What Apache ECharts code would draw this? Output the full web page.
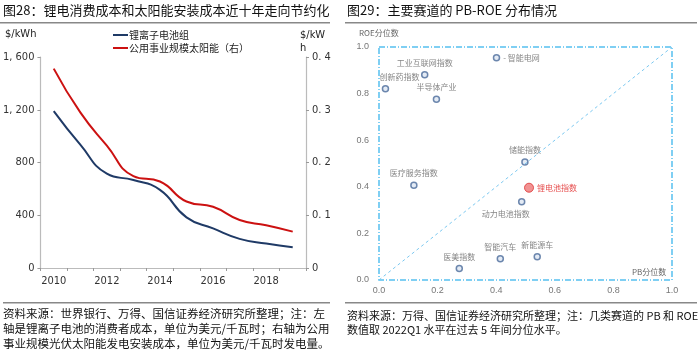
<!DOCTYPE html>
<html><head><meta charset="utf-8">
<script src="https://cdn.jsdelivr.net/npm/echarts@6/dist/echarts.min.js"></script>
<style>html,body{margin:0;padding:0;background:#fff}#c{width:700px;height:354px}</style>
</head><body><div id="c"></div>
<script>
// Left chart data
const years = ['2010','2011','2012','2013','2014','2015','2016','2017','2018','2019'];
const batteryCost = [1190, 935, 715, 667, 592, 384, 300, 221, 185, 157];
const solarCost = [0.378, 0.295, 0.232, 0.174, 0.164, 0.126, 0.116, 0.091, 0.081, 0.069];
const leftTicks = [0, 400, 800, 1200, 1600];
const rightTicks = [0, 0.1, 0.2, 0.3, 0.4];
// Right chart data
const tracks = ['智能电网','工业互联网指数','创新药指数','半导体产业','储能指数','医疗服务指数','锂电池指数','动力电池指数','智能汽车','新能源车','医美指数'];
const pbPct = [0.401, 0.156, 0.022, 0.196, 0.498, 0.119, 0.512, 0.487, 0.414, 0.540, 0.274];
const roePct = [0.954, 0.881, 0.821, 0.776, 0.506, 0.407, 0.396, 0.336, 0.091, 0.100, 0.049];
const diagLine = [[0,0],[1,1]];

const NARROW = '"Liberation Sans Narrow","DejaVu Sans Condensed","Roboto Condensed",sans-serif';
const CJK = '"Noto Sans CJK SC",sans-serif';

function fmtLeft(v){ return v >= 1000 ? Math.floor(v/1000) + ', ' + String(v%1000).padStart(3,'0') : String(v); }
function fmtRight(v){ return v === 0 ? '0' : '0. ' + Math.round(v*10); }

const labelPos = {
  '智能电网': {position:'right', offset:[0,0]},
  '工业互联网指数': {position:'top', offset:[0,-1]},
  '创新药指数': {position:'top', offset:[14,-1]},
  '半导体产业': {position:'top', offset:[0,-1]},
  '储能指数': {position:'top', offset:[0,-1]},
  '医疗服务指数': {position:'top', offset:[0,-1]},
  '锂电池指数': {position:'right', offset:[0,0]},
  '动力电池指数': {position:'bottom', offset:[-16,1]},
  '智能汽车': {position:'top', offset:[0,-1]},
  '新能源车': {position:'top', offset:[0,-1]},
  '医美指数': {position:'top', offset:[0,-1]}
};

const scatterData = tracks.map((n,i) => {
  const isLi = n === '锂电池指数';
  const lp = labelPos[n];
  return {
    name: n, value: [pbPct[i], roePct[i]],
    symbolSize: isLi ? 9 : 6,
    itemStyle: isLi ? {color:'#ee7777', borderColor:'#dd3333', borderWidth:1} : {color:'#dde6f2', borderColor:'#4a6a9a', borderWidth:1.5},
    label: {show:true, formatter: n === '智能电网' ? '- {b}' : '{b}', position: lp.position, offset: lp.offset, distance: 3,
      color: isLi ? '#e02020' : '#666', fontSize: 8, fontFamily: CJK}
  };
});

const chart = echarts.init(document.getElementById('c'), null, {renderer:'canvas'});
chart.setOption({
  animation: false,
  backgroundColor: '#fff',
  grid: [
    {left: 33, right: 394, top: 57, bottom: 86},
    {left: 379, right: 28, top: 47, bottom: 74, show: true, borderColor: '#55c0f0', borderWidth: 1.5, borderType: [6,2,1,2]}
  ],
  legend: {
    orient: 'vertical', left: 108, top: 25, itemGap: 3,
    icon: 'rect', itemWidth: 15, itemHeight: 2,
    textStyle: {fontSize: 10, color: '#222', fontFamily: CJK, padding: [0,0,0,-4]},
    data: ['锂离子电池组', '公用事业规模太阳能（右）']
  },
  xAxis: [
    {type:'category', gridIndex:0, data: years, boundaryGap: true,
     axisLine:{lineStyle:{color:'#bbb', width:1.2}},
     axisTick:{show:true, interval:0, length:3, lineStyle:{color:'#999'}},
     axisLabel:{interval:1, color:'#333', fontSize:11, fontFamily: NARROW, margin:8}},
    {type:'value', gridIndex:1, min:0, max:1, interval:0.2,
     axisLine:{show:false}, axisTick:{show:false}, splitLine:{show:false},
     axisLabel:{color:'#777', fontSize:9, margin:6, formatter: v => v.toFixed(1)}}
  ],
  yAxis: [
    {type:'value', gridIndex:0, min:0, max:1600, interval:400,
     axisLine:{show:true, lineStyle:{color:'#bbb', width:1.2}},
     axisTick:{show:true, length:3, lineStyle:{color:'#999'}},
     splitLine:{show:false},
     axisLabel:{color:'#333', fontSize:11, fontFamily: NARROW, margin:6, formatter: fmtLeft}},
    {type:'value', gridIndex:0, min:0, max:0.4, interval:0.1, position:'right',
     axisLine:{show:true, lineStyle:{color:'#bbb', width:1.2}},
     axisTick:{show:true, length:3, lineStyle:{color:'#999'}},
     splitLine:{show:false},
     axisLabel:{color:'#333', fontSize:11, fontFamily: NARROW, margin:6, formatter: fmtRight}},
    {type:'value', gridIndex:1, min:0, max:1, interval:0.2,
     axisLine:{show:false}, axisTick:{show:false}, splitLine:{show:false},
     axisLabel:{color:'#777', fontSize:9, margin:10, formatter: v => v.toFixed(1)}}
  ],
  series: [
    {name:'锂离子电池组', type:'line', xAxisIndex:0, yAxisIndex:0, data: batteryCost, smooth:0.5, symbol:'none',
     lineStyle:{color:'#1f3a66', width:2}, itemStyle:{color:'#1f3a66'}},
    {name:'公用事业规模太阳能（右）', type:'line', xAxisIndex:0, yAxisIndex:1, data: solarCost, smooth:0.5, symbol:'none',
     lineStyle:{color:'#cc1111', width:2}, itemStyle:{color:'#cc1111'}},
    {type:'line', xAxisIndex:1, yAxisIndex:2, data: diagLine, symbol:'none', silent:true,
     lineStyle:{color:'#7cc8f0', width:1, type:[3,3]}},
    {type:'scatter', xAxisIndex:1, yAxisIndex:2, data: scatterData}
  ],
  graphic: [
    {type:'text', left: 3, top: 4, style:{text:'图28：锂电消费成本和太阳能安装成本近十年走向节约化', font:'13px "Noto Sans CJK SC"', fill:'#111'}},
    {type:'rect', shape:{x:0, y:22, width:330, height:1.5}, style:{fill:'#888'}},
    {type:'text', left: 347, top: 4, style:{text:'图29：主要赛道的 PB-ROE 分布情况', font:'13px "Noto Sans CJK SC"', fill:'#111'}},
    {type:'rect', shape:{x:345, y:22, width:352, height:1.5}, style:{fill:'#888'}},
    {type:'text', left: 5, top: 29, style:{text:'$/kWh', font:'11px ' + NARROW, fill:'#222'}},
    {type:'text', left: 300, top: 29, style:{text:'$/kW\nh', font:'11px ' + NARROW, fill:'#222', lineHeight: 13}},
    {type:'text', left: 359, top: 29, style:{text:'ROE分位数', font:'8px "Noto Sans CJK SC"', fill:'#666'}},
    {type:'text', left: 632, top: 268, style:{text:'PB分位数', font:'8px "Noto Sans CJK SC"', fill:'#666'}},
    {type:'rect', shape:{x:3, y:302, width:327, height:1.5}, style:{fill:'#888'}},
    {type:'text', left: 3, top: 306, style:{text:'资料来源：世界银行、万得、国信证券经济研究所整理；注：左\n轴是锂离子电池的消费者成本，单位为美元/千瓦时；右轴为公用\n事业规模光伏太阳能发电安装成本，单位为美元/千瓦时发电量。', font:'11.5px "Noto Sans CJK SC"', fill:'#111', lineHeight: 15}},
    {type:'rect', shape:{x:345, y:302, width:352, height:1.5}, style:{fill:'#888'}},
    {type:'text', left: 347, top: 309, style:{text:'资料来源：万得、国信证券经济研究所整理；注：几类赛道的 PB 和 ROE\n数值取 2022Q1 水平在过去 5 年间分位水平。', font:'11px "Noto Sans CJK SC"', fill:'#111', lineHeight: 14}}
  ]
});
</script></body></html>
